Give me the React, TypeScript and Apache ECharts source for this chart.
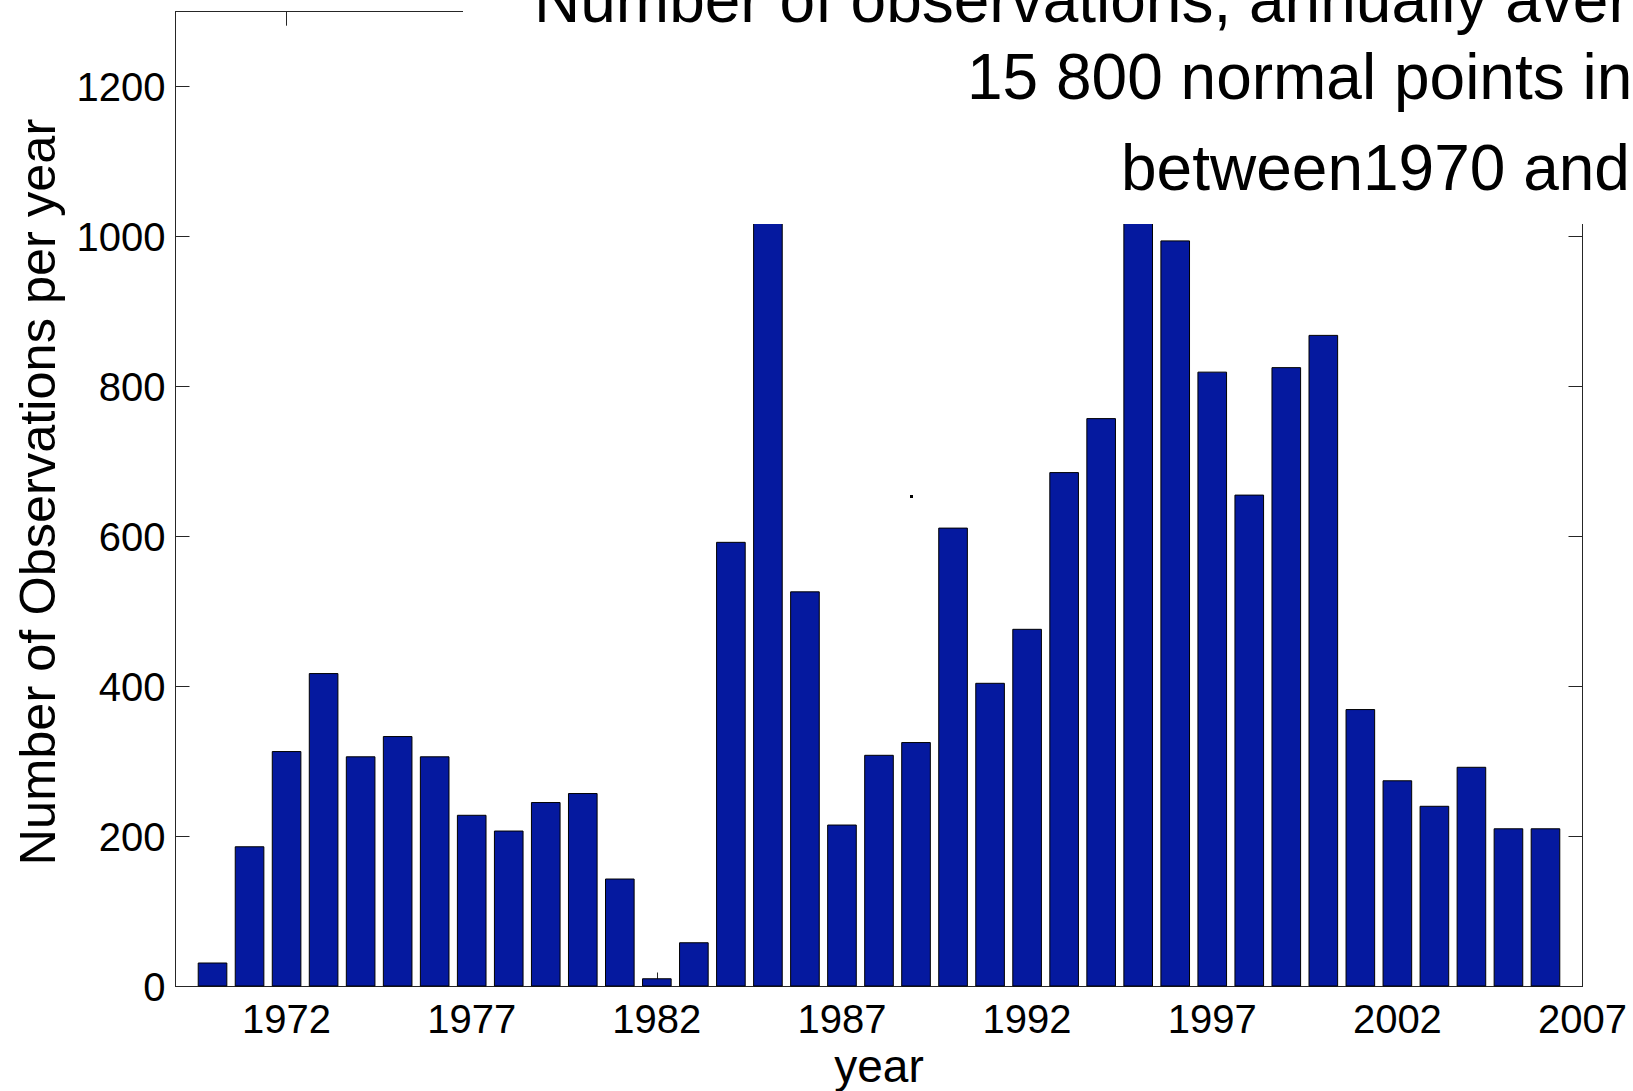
import React, { useEffect, useRef } from 'react';
import * as echarts from 'echarts';

const years = [
  1970, 1971, 1972, 1973, 1974, 1975, 1976, 1977, 1978, 1979,
  1980, 1981, 1982, 1983, 1984, 1985, 1986, 1987, 1988, 1989,
  1990, 1991, 1992, 1993, 1994, 1995, 1996, 1997, 1998, 1999,
  2000, 2001, 2002, 2003, 2004, 2005, 2006,
];
const observations = [
  32, 187, 314, 418, 307, 334, 307, 229, 208, 246,
  258, 144, 11, 59, 593, 1040, 527, 216, 309, 326,
  612, 405, 477, 686, 758, 1030, 995, 820, 656, 826,
  869, 370, 275, 241, 293, 211, 211,
];
const xTicks = [1972, 1977, 1982, 1987, 1992, 1997, 2002, 2007];
const yTicks = [0, 200, 400, 600, 800, 1000, 1200];
const titleLines = [
  'Number of observations, annually aver',
  '15 800 normal points in',
  'between1970 and',
];
const xName = 'year';
const yName = 'Number of Observations per year';

export default function App() {
  const ref = useRef<HTMLDivElement>(null);
  useEffect(() => {
    if (!ref.current) return;
    const chart = echarts.init(ref.current, null, { renderer: 'svg' });
    const font = "'Liberation Sans', Arial, Helvetica, sans-serif";
    const lineStyle = { color: '#262626', width: 1 };
    const fmt = (v: number) => String(v);
    chart.setOption({
      animation: false,
      backgroundColor: '#ffffff',
      grid: {
        left: 175.5,
        right: 50.5,
        top: 11.7,
        bottom: 104.5,
        containLabel: false,
        outerBoundsMode: 'none',
      },
      xAxis: [
        {
          type: 'value',
          position: 'bottom',
          min: 1969,
          max: 2007,
          name: xName,
          nameLocation: 'middle',
          nameGap: 54,
          nameTextStyle: { fontSize: 46, color: '#000', fontFamily: font },
          axisLine: { show: true, onZero: false, lineStyle },
          axisTick: { show: true, inside: true, length: 14, customValues: xTicks, lineStyle },
          axisLabel: { customValues: xTicks, formatter: fmt, fontSize: 40, color: '#000', fontFamily: font, margin: 12 },
          splitLine: { show: false },
        },
        {
          type: 'value',
          position: 'top',
          min: 1969,
          max: 2007,
          axisLine: { show: true, onZero: false, lineStyle },
          axisTick: { show: true, inside: true, length: 14, customValues: xTicks, lineStyle },
          axisLabel: { show: false },
          splitLine: { show: false },
        },
      ],
      yAxis: [
        {
          type: 'value',
          position: 'left',
          min: 0,
          max: 1300,
          name: yName,
          nameLocation: 'middle',
          nameGap: 113,
          nameTextStyle: { fontSize: 50.5, color: '#000', fontFamily: font, padding: [0, 0, 0, 14] },
          axisLine: { show: true, onZero: false, lineStyle },
          axisTick: { show: true, inside: true, length: 14, customValues: yTicks, lineStyle },
          axisLabel: { customValues: yTicks, formatter: fmt, fontSize: 40, color: '#000', fontFamily: font, margin: 10 },
          splitLine: { show: false },
        },
        {
          type: 'value',
          position: 'right',
          min: 0,
          max: 1300,
          axisLine: { show: true, onZero: false, lineStyle },
          axisTick: { show: true, inside: true, length: 14, customValues: yTicks, lineStyle },
          axisLabel: { show: false },
          splitLine: { show: false },
        },
      ],
      series: [
        {
          type: 'bar',
          xAxisIndex: 0,
          yAxisIndex: 0,
          data: years.map((y, i) => [y, observations[i]]),
          barWidth: '80%',
          itemStyle: { color: '#05199F', borderColor: '#000000', borderWidth: 1 },
        },
      ],
      graphic: {
        elements: [
          {
            type: 'rect',
            z: 100,
            shape: { x: 463, y: 0, width: 1170, height: 224 },
            style: { fill: '#ffffff' },
          },
          {
            type: 'text',
            z: 101,
            x: 534,
            y: -0.2,
            style: { text: titleLines[0], fontSize: 64, fontFamily: font, fill: '#000', align: 'left', verticalAlign: 'middle' },
          },
          {
            type: 'text',
            z: 101,
            x: 967,
            y: 76.8,
            style: { text: titleLines[1], fontSize: 64, fontFamily: font, fill: '#000', align: 'left', verticalAlign: 'middle' },
          },
          {
            type: 'text',
            z: 101,
            x: 1121,
            y: 167.8,
            style: { text: titleLines[2], fontSize: 64, fontFamily: font, fill: '#000', align: 'left', verticalAlign: 'middle' },
          },
          {
            type: 'rect',
            z: 101,
            shape: { x: 910, y: 495, width: 3, height: 3 },
            style: { fill: '#000' },
          },
        ],
      },
    });
    return () => chart.dispose();
  }, []);
  return (
    <div
      ref={ref}
      style={{ position: 'fixed', left: 0, top: 0, width: 1633, height: 1091 }}
    />
  );
}
